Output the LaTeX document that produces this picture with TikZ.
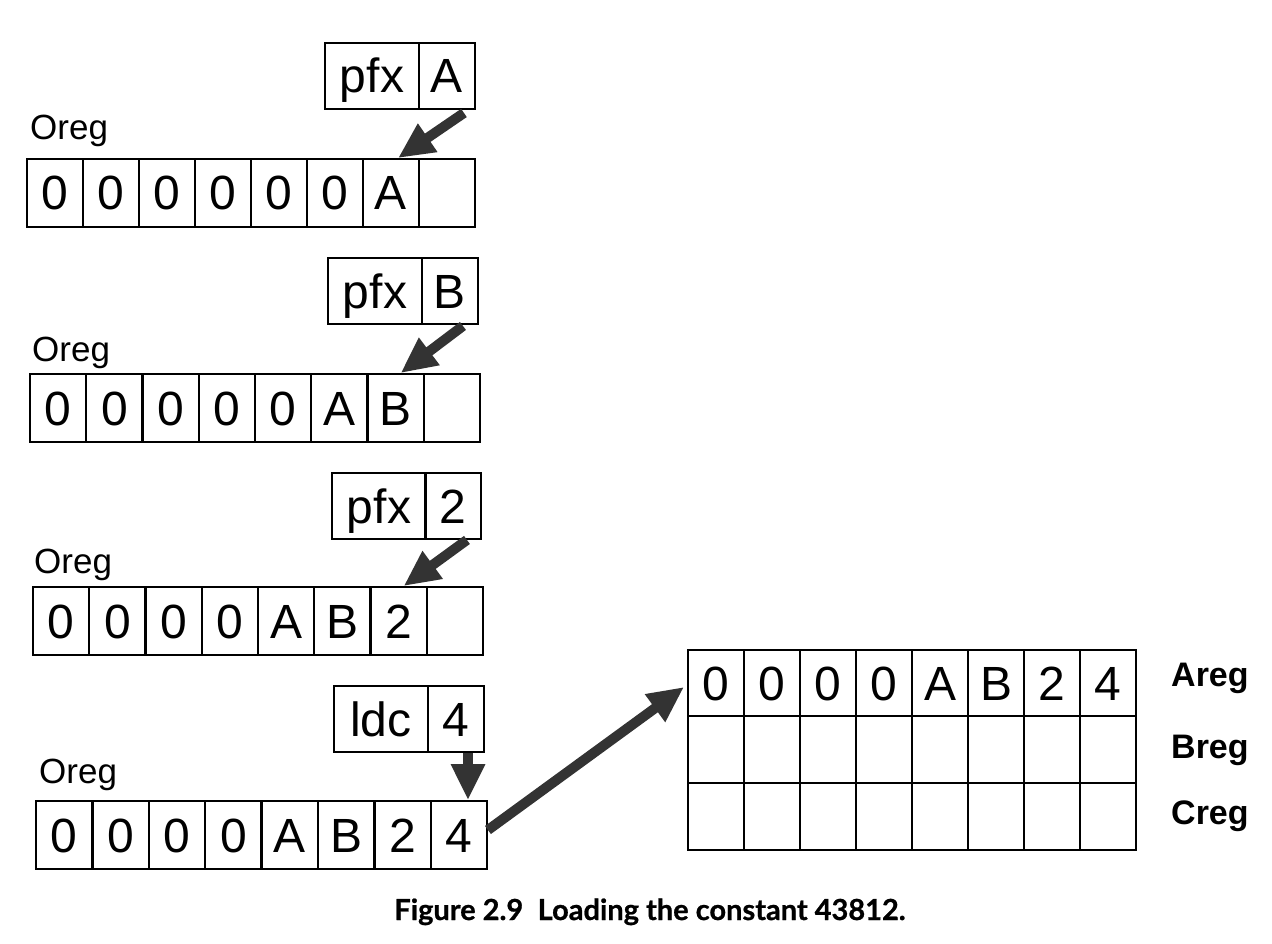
\documentclass[tikz,border=0pt]{standalone}
\usepackage{fontspec}
\setmainfont{Liberation Sans}
\newfontfamily\capfont{Lato}[BoldFeatures={FakeBold=0.8}]
\usetikzlibrary{arrows.meta}

\begin{document}
\begin{tikzpicture}[x=1pt,y=-1pt,
  frame/.style={draw,line width=1.9pt,inner sep=0pt,text height=34pt,text depth=0pt,
    font=\fontsize{48}{48}\selectfont},
  cell/.style={frame,minimum width=56pt,minimum height=68pt},
  opcell/.style={frame,minimum width=94pt,minimum height=66pt},
  valcell/.style={frame,minimum width=56pt,minimum height=66pt},
  gridcell/.style={frame,minimum width=56pt,minimum height=66.7pt},
  reglabel/.style={anchor=base west,inner sep=0pt,font=\fontsize{35}{35}\selectfont},
  stacklabel/.style={anchor=base west,inner sep=0pt,font=\bfseries\fontsize{34}{34}\selectfont},
  bigarrow/.style={line width=10pt,draw=black!80,
    -{Triangle[length=36pt,width=32pt,fill=black!80]}},
]
\useasboundingbox (0,0) rectangle (1272,944);

% ---- pfx A ----
\node[opcell]  (o1) at (372,76) {pfx};
\node[valcell] (v1) at (447,76) {A};
\node[reglabel] (l1) at (30,140) {Oreg};
\foreach \v [count=\i] in {0,0,0,0,0,0,A,{}}
  \node[cell] (ra\i) at ({27+56*(\i-0.5)},193) {\v};
\draw[bigarrow] ([xshift=-12pt,yshift=-3pt]v1.south east) -- ([xshift=7pt]ra7.north);

% ---- pfx B ----
\node[opcell]  (o2) at (375,291) {pfx};
\node[valcell] (v2) at (450,291) {B};
\node[reglabel] (l2) at (32,361) {Oreg};
\foreach \v [count=\i] in {0,0,0,0,0,A,B,{}}
  \node[cell] (rb\i) at ({30+56.25*(\i-0.5)},408) {\v};
\draw[bigarrow] ([xshift=-16pt,yshift=-1pt]v2.south east) -- ([xshift=5pt]rb7.north);

% ---- pfx 2 ----
\node[opcell]  (o3) at (379,506) {pfx};
\node[valcell] (v3) at (453,506) {2};
\node[reglabel] (l3) at (34,573) {Oreg};
\foreach \v [count=\i] in {0,0,0,0,A,B,2,{}}
  \node[cell] (rc\i) at ({33+56.25*(\i-0.5)},621) {\v};
\draw[bigarrow] ([xshift=-15pt]v3.south east) -- ([xshift=5pt]rc7.north);

% ---- ldc 4 ----
\node[opcell]  (o4) at (381,719) {ldc};
\node[valcell] (v4) at (456,719) {4};
\node[reglabel] (l4) at (39,783) {Oreg};
\foreach \v [count=\i] in {0,0,0,0,A,B,2,4}
  \node[cell] (rd\i) at ({36+56.4*(\i-0.5)},835) {\v};
\draw[bigarrow] ([xshift=12pt]v4.south) -- ([xshift=12pt]v4.south |- rd8.north);

% ---- evaluation stack ----
\foreach \v [count=\i] in {0,0,0,0,A,B,2,4}
  \node[gridcell] (ga\i) at ({688+56*(\i-0.5)},683) {\v};
\foreach \i in {1,...,8} {
  \node[gridcell] (gb\i) at ({688+56*(\i-0.5)},749.7) {};
  \node[gridcell] (gc\i) at ({688+56*(\i-0.5)},816.4) {};
}
\node[stacklabel] (areg) at (1171,686) {Areg};
\node[stacklabel] (breg) at (1171,758) {Breg};
\node[stacklabel] (creg) at (1171,824) {Creg};

\draw[bigarrow] ([yshift=5pt]rd8.east) -- ([xshift=-3pt,yshift=-4pt]ga1.west);

% ---- caption ----
\node[anchor=base,inner sep=0pt,font=\capfont\bfseries\fontsize{29}{32}\selectfont] (cap) at (650,920)
  {Figure 2.9\hspace{0.5em}Loading the constant 43812.};
\end{tikzpicture}
\end{document}
